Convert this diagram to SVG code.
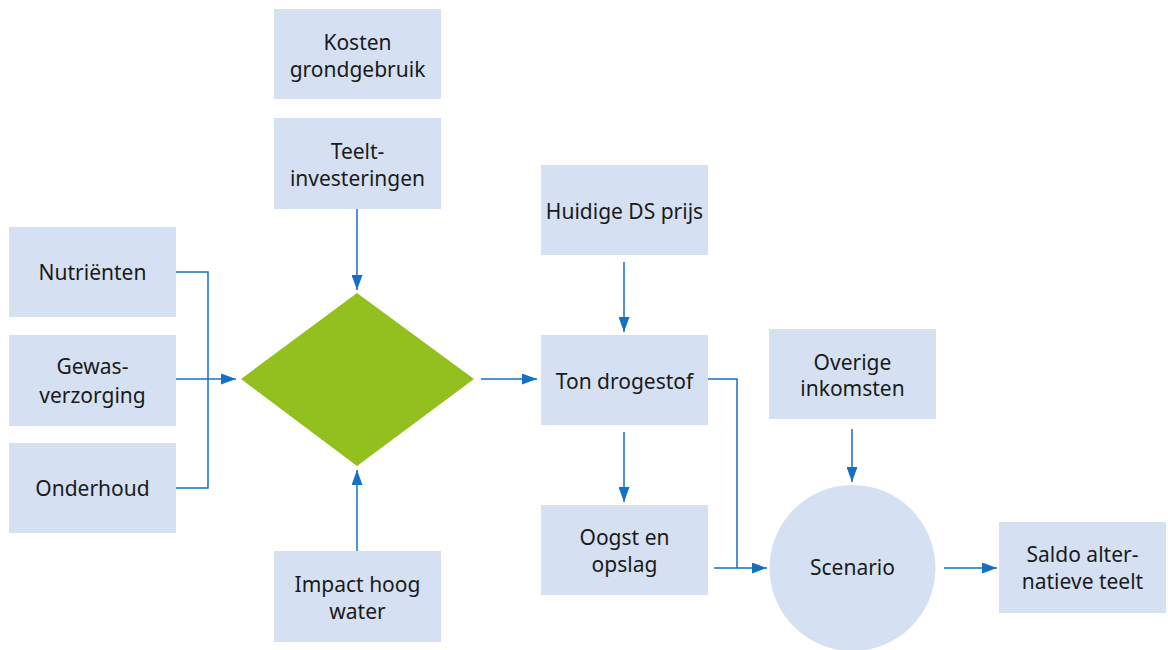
<svg xmlns="http://www.w3.org/2000/svg" width="1168" height="650" viewBox="0 0 1168 650">
<style>
.box{fill:#d5e1f3}
.t{font-family:"Source Sans Pro","Noto Sans",sans-serif;font-size:21px;fill:#1a1a1a;text-anchor:middle}
.c{fill:none;stroke:#1470c0;stroke-width:1.5}
</style>
<defs>
<marker id="a" viewBox="0 0 15 11" refX="15" refY="5.5" markerWidth="15" markerHeight="11" markerUnits="userSpaceOnUse" orient="auto">
<path d="M0,0 L15,5.5 L0,11 z" fill="#1470c0"/>
</marker>
</defs>
<rect width="1168" height="650" fill="#fff"/>
<g id="connectors">
<path class="c" d="M357,209 V290" marker-end="url(#a)"/>
<path class="c" d="M357,551 V470" marker-end="url(#a)"/>
<path class="c" d="M176,272 H208 V488 H176"/>
<path class="c" d="M176,379 H236" marker-end="url(#a)"/>
<path class="c" d="M481,379 H537" marker-end="url(#a)"/>
<path class="c" d="M624,262 V332" marker-end="url(#a)"/>
<path class="c" d="M624,432 V502" marker-end="url(#a)"/>
<path class="c" d="M708,379 H737 V568"/>
<path class="c" d="M714,568 H767" marker-end="url(#a)"/>
<path class="c" d="M852,429 V482" marker-end="url(#a)"/>
<path class="c" d="M944,568 H997" marker-end="url(#a)"/>
</g>
<g id="kosten"><rect class="box" x="274" y="9" width="167" height="90"/><text class="t" x="357.5" y="50">Kosten</text><text class="t" x="357.5" y="77">grondgebruik</text></g>
<g id="teelt"><rect class="box" x="274" y="118" width="167" height="91"/><text class="t" x="357.5" y="159">Teelt-</text><text class="t" x="357.5" y="186">investeringen</text></g>
<g id="nutrienten"><rect class="box" x="9" y="227" width="167" height="90"/><text class="t" x="92.5" y="280">Nutriënten</text></g>
<g id="gewas"><rect class="box" x="9" y="335" width="167" height="91"/><text class="t" x="92.5" y="374">Gewas-</text><text class="t" x="92.5" y="403">verzorging</text></g>
<g id="onderhoud"><rect class="box" x="9" y="443" width="167" height="90"/><text class="t" x="92.5" y="496">Onderhoud</text></g>
<g id="diamond"><polygon points="241,379 357,293 474,379 357,466" fill="#93c01f"/></g>
<g id="impact"><rect class="box" x="274" y="551" width="167" height="91"/><text class="t" x="357.5" y="592">Impact hoog</text><text class="t" x="357.5" y="619">water</text></g>
<g id="huidige"><rect class="box" x="541" y="165" width="167" height="90"/><text class="t" x="624.5" y="219">Huidige DS prijs</text></g>
<g id="ton"><rect class="box" x="541" y="335" width="167" height="90"/><text class="t" x="624.5" y="389">Ton drogestof</text></g>
<g id="oogst"><rect class="box" x="541" y="505" width="167" height="90"/><text class="t" x="624.5" y="545">Oogst en</text><text class="t" x="624.5" y="572">opslag</text></g>
<g id="overige"><rect class="box" x="769" y="329" width="167" height="90"/><text class="t" x="852.5" y="370">Overige</text><text class="t" x="852.5" y="396">inkomsten</text></g>
<g id="scenario"><circle cx="852.5" cy="568" r="83" fill="#d5e1f3"/><text class="t" x="852.5" y="575">Scenario</text></g>
<g id="saldo"><rect class="box" x="999" y="522" width="167" height="91"/><text class="t" x="1082.5" y="562">Saldo alter-</text><text class="t" x="1082.5" y="589">natieve teelt</text></g>
</svg>
